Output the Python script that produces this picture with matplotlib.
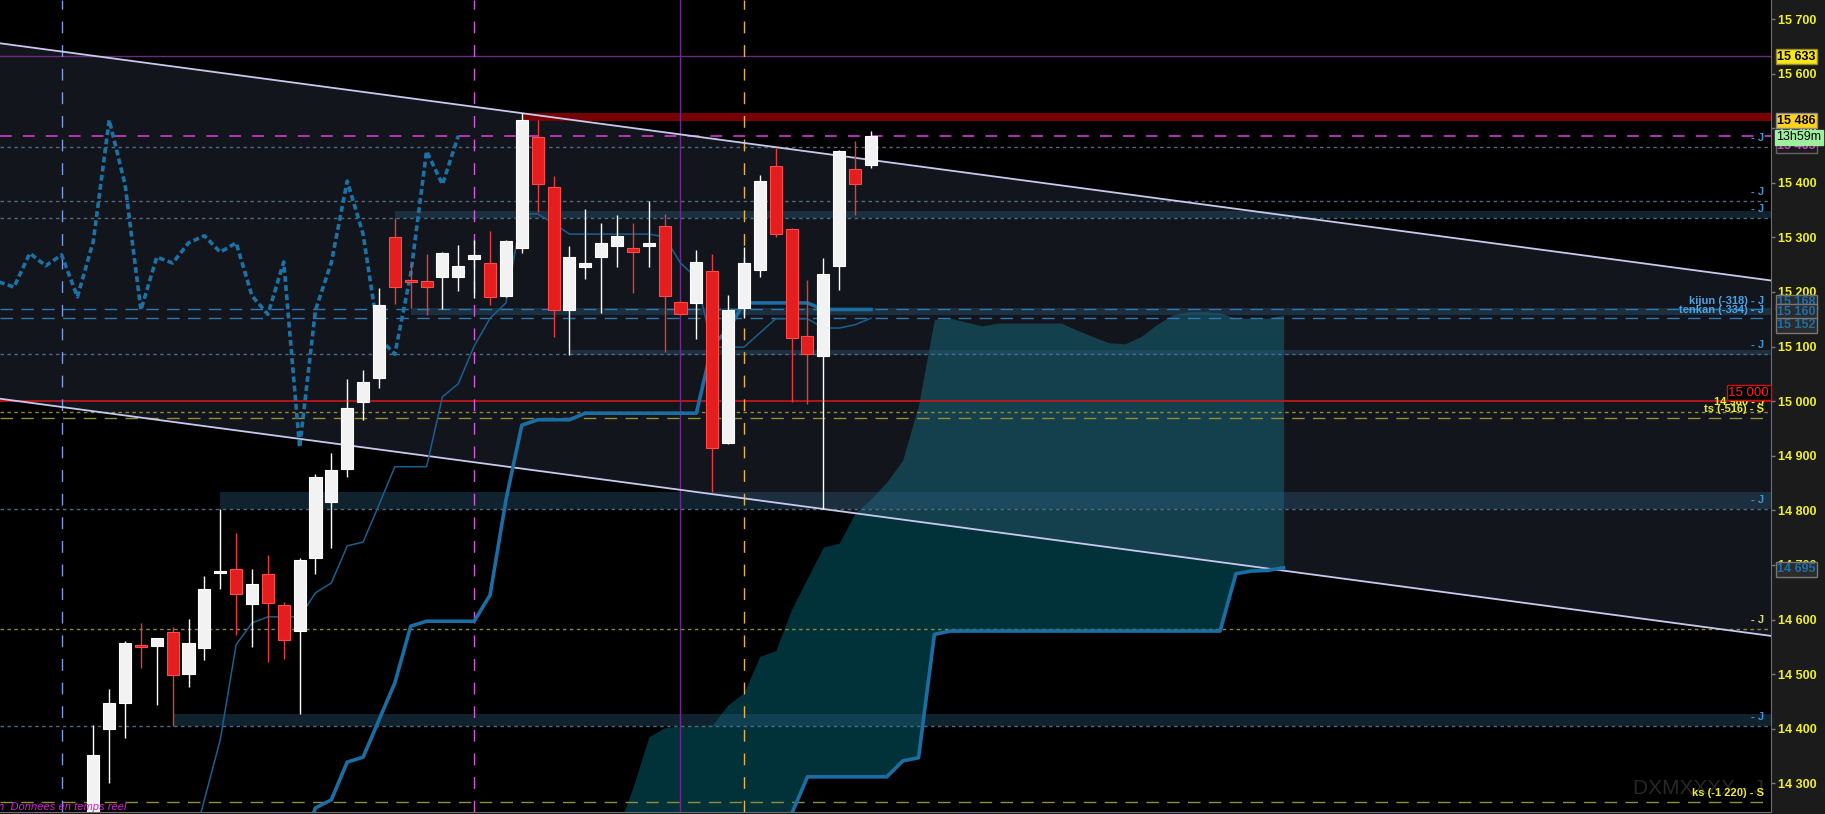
import numpy as np
import matplotlib
matplotlib.use("Agg")
import matplotlib.pyplot as plt
from matplotlib.ticker import FixedLocator, FuncFormatter

plt.rcParams['font.family'] = ['Liberation Sans', 'DejaVu Sans']
plt.rcParams['lines.scale_dashes'] = False

# ---- daily candles, index 0 = first visible bar ----
opens = [14230, 14400, 14448, 14553, 14552, 14577, 14500, 14548, 14686, 14693,
         14629, 14683, 14626, 14580, 14713, 14816, 14876, 14999, 15043, 15300,
         15222, 15220, 15228, 15227, 15260, 15253, 15193, 15281, 15483, 15392,
         15167, 15245, 15265, 15285, 15280, 15285, 15321, 15181, 15179, 15239,
         14924, 15171, 15240, 15431, 15315, 15119, 15083, 15248, 15425, 15433]
highs = [14407, 14472, 14561, 14594, 14567, 14586, 14601, 14680, 14802, 14758,
         14693, 14718, 14632, 14713, 14866, 14906, 15041, 15058, 15207, 15336,
         15254, 15270, 15273, 15286, 15295, 15312, 15295, 15527, 15515, 15412,
         15284, 15352, 15326, 15341, 15326, 15367, 15343, 15184, 15277, 15270,
         15195, 15283, 15414, 15464, 15318, 15222, 15262, 15460, 15477, 15495]
lows = [14200, 14301, 14384, 14511, 14444, 14405, 14477, 14526, 14656, 14572,
        14549, 14523, 14528, 14428, 14683, 14732, 14862, 14966, 15024, 15178,
        15171, 15158, 15168, 15201, 15189, 15176, 15190, 15272, 15347, 15118,
        15085, 15224, 15161, 15246, 15198, 15246, 15091, 15157, 15114, 14834,
        14921, 15152, 15228, 15300, 14999, 14994, 14803, 15204, 15341, 15428]
closes = [14352, 14447, 14557, 14550, 14566, 14499, 14557, 14656, 14689, 14646,
          14665, 14631, 14563, 14709, 14862, 14874, 14988, 15035, 15176, 15209,
          15219, 15209, 15271, 15248, 15268, 15191, 15293, 15515, 15397, 15167,
          15264, 15253, 15290, 15303, 15273, 15290, 15193, 15159, 15255, 14915,
          15167, 15254, 15403, 15306, 15116, 15086, 15233, 15458, 15397, 15486]

# ---- ichimoku lines (by bar index) ----
tenkan_start = 6
tenkan = [14160, 14270, 14380, 14554, 14594, 14605, 14605, 14605, 14649, 14667,
          14735, 14742, 14810, 14880, 14880, 14880, 15008, 15032, 15101, 15152,
          15180, 15343, 15343, 15326, 15306, 15306, 15306, 15306, 15306, 15306,
          15301, 15253, 15226, 15099, 15099, 15099, 15125, 15151, 15151, 15151,
          15134, 15134, 15140, 15152]
kijun_start = 13
kijun = [14180, 14255, 14270, 14339, 14348, 14416, 14484, 14588, 14597, 14597,
         14597, 14597, 14645, 14819, 14956, 14966, 14966, 14966, 14978, 14978,
         14978, 14978, 14978, 14978, 14978, 14978, 15103, 15130, 15180, 15180,
         15180, 15180, 15180, 15168, 15168, 15168, 15168]
cloud_start = 33
span_a = [14215, 14292, 14385, 14402, 14405, 14406, 14407, 14444, 14466, 14533,
          14543, 14619, 14676, 14733, 14740, 14795, 14821, 14852, 14892, 14993,
          15150, 15152, 15145, 15138, 15143, 15143, 15143, 15143, 15143, 15130,
          15118, 15107, 15105, 15118, 15140, 15158, 15164, 15164, 15162, 15152,
          15152, 15152, 15158]
span_b = [14100] * 11 + [14244] + [14312] * 6 + [14341, 14347, 14573] + \
         [14579] * 18 + [14684, 14689, 14690, 14695]
chikou_shift = 26

# ---- drawn objects ----
channel_x = [-6, 106]
channel_top = [15656, 15220]
channel_bot = [15005, 14569]
# (start bar, low, high)
zones = [(19, 15335, 15349), (20, 15157, 15170), (30, 15085, 15094),
         (8, 14802, 14833), (5, 14405, 14428)]
red_zone = (27, 15514, 15527)
j_levels = [15465, 15366, 15335, 15086, 14802, 14405]
last_price = 15486
kijun_level, tenkan_level = 15168, 15152
round_level = 15000
yellow_levels = [14980, 14582]
ts_level, ks_level = 14970, 14266
purple_level = 15633
vlines = [(-2, '#7b98e0', 'dash'), (24, '#d35ad8', 'dash'),
          (37, '#6f2a90', 'solid'), (41, '#e6b24a', 'dash')]

W, H = 1825, 814
fig = plt.figure(figsize=(W / 100, H / 100), dpi=100, facecolor='#1b1b1b')
ax = fig.add_axes([0, 2 / H, 1771 / W, 812 / H])
ax.set_facecolor('black')
ax.set_xlim(-5.879, 105.715)
ax.set_ylim(14247.6, 15734.8)

# cloud (kumo)
cx = np.arange(cloud_start, cloud_start + len(span_a))
ax.fill_between(cx, span_a, span_b, color='#01323a', lw=0, zorder=1)

# descending channel
ax.fill_between(channel_x, channel_bot, channel_top, color=(0.55, 0.6, 0.8),
                alpha=0.14, lw=0, zorder=2)

# zones
xr = ax.get_xlim()[1]
ax.fill_between([red_zone[0], xr], red_zone[1], red_zone[2], color='#780000',
                lw=0, zorder=2.5)
for s, lo, hi in zones:
    ax.fill_between([s, xr], lo, hi, color='#2a5a7a', alpha=0.38, lw=0, zorder=3)

# horizontal levels
fine = (0, (2.5, 2.5))
longd = (0, (9, 6))
for lv in j_levels:
    ax.axhline(lv, color='#4c6a80', lw=1, ls=fine, zorder=4)
ax.axhline(last_price, color='#cc3ccc', lw=1.2, ls=(0, (8.5, 8)), zorder=4)
ax.axhline(kijun_level, color='#2f78ad', lw=1, ls=longd, zorder=4)
ax.axhline(tenkan_level, color='#2f78ad', lw=1, ls=longd, zorder=4)
ax.axhline(round_level, color='#cf1515', lw=1.2, zorder=4)
for lv in yellow_levels:
    ax.axhline(lv, color='#8a8a3a', lw=1, ls=fine, zorder=4)
ax.axhline(ts_level, color='#8f8f2f', lw=1, ls=longd, zorder=4)
ax.axhline(ks_level, color='#8f8f2f', lw=1, ls=longd, zorder=4)
ax.axhline(purple_level, color='#6a2a80', lw=1, zorder=4)
for xv, col, st in vlines:
    ax.axvline(xv, color=col, lw=1, zorder=4,
               ls=(0, (8.5, 8.5)) if st == 'dash' else '-')

# channel lines
ax.plot(channel_x, channel_top, color='#c9c9ee', lw=1.3, zorder=4.5)
ax.plot(channel_x, channel_bot, color='#c9c9ee', lw=1.3, zorder=4.5)

# ichimoku
ax.plot(cx, span_b, color='#1a6ea3', lw=2.6, zorder=5)
ax.plot(np.arange(kijun_start, kijun_start + len(kijun)), kijun,
        color='#1a6ea3', lw=2.6, zorder=5)
ax.plot(np.arange(tenkan_start, tenkan_start + len(tenkan)), tenkan,
        color='#1b5f8e', lw=1.1, zorder=5)
ck = np.arange(20, len(closes))
ax.plot(ck - chikou_shift, [closes[k] for k in ck], color='#1b72a6', lw=2.6,
        ls=(0, (4.2, 2.4)), zorder=5)

# candles
xs = np.arange(len(closes))
o = np.array(opens, float)
c = np.array(closes, float)
up = c >= o
wick_cols = ['#ffffff' if u else '#e83a3a' for u in up]
ax.vlines(xs, lows, highs, colors=wick_cols, lw=1, zorder=6)
body = np.maximum(np.abs(c - o), 4)
bottom = np.minimum(o, c) - (body - np.abs(c - o)) / 2
ax.bar(xs, body, bottom=bottom, width=0.76,
       color=['#f2f2f2' if u else '#e41e1e' for u in up],
       edgecolor=['#ffffff' if u else '#ff4a4a' for u in up], lw=0.8, zorder=7)

# right axis
ax.yaxis.tick_right()
ax.yaxis.set_major_locator(FixedLocator(list(range(14300, 15800, 100))))
ax.yaxis.set_major_formatter(FuncFormatter(lambda v, p: f"{int(v):,}".replace(",", " ")))
ax.tick_params(axis='y', length=3, width=1, color='#7a7a7a', pad=2,
               labelsize=9, labelcolor='#f0f022')
plt.setp(ax.get_yticklabels(), fontweight='bold')
ax.set_xticks([])
for side in ['top', 'left']:
    ax.spines[side].set_visible(False)
ax.spines['right'].set_color('#6e6e6e')
ax.spines['bottom'].set_color('#6e6e6e')

PT = 0.72  # points per pixel


def right_label(price, text, dy, color, size=8, weight='bold', dx=-7, z=9):
    ax.annotate(text, xy=(1, price), xycoords=('axes fraction', 'data'),
                xytext=(dx * PT, dy * PT), textcoords='offset points',
                ha='right', va='center', color=color, fontsize=size,
                fontweight=weight, zorder=z, annotation_clip=False)


def axis_box(price, text, dy, fg, bg, ec, weight='bold', z=12, dx=6):
    ax.annotate(text, xy=(1, price), xycoords=('axes fraction', 'data'),
                xytext=(dx * PT, dy * PT), textcoords='offset points',
                ha='left', va='center', color=fg, fontsize=9, fontweight=weight,
                bbox=dict(boxstyle='square,pad=0.12', fc=bg, ec=ec, lw=1),
                zorder=z, annotation_clip=False)


for lv in j_levels:
    right_label(lv, '- J', 9, '#3d95d5')
right_label(yellow_levels[1], '- J', 9, '#d8d878')
right_label(kijun_level, 'kijun (-318) - J', 8, '#4aa3e3')
right_label(tenkan_level, 'tenkan (-334) - J', 8, '#4aa3e3')
right_label(ks_level, 'DXMXXXX - J', 13, '#272727', size=15, weight='normal', z=8)
right_label(yellow_levels[0], '14 980 - J', 10, '#ecec2c')
right_label(ts_level, 'ts (-516) - S', 8.5, '#ecec2c')
right_label(ks_level, 'ks (-1 220) - S', 9, '#ecec2c')

ax.annotate('15 000', xy=(1, round_level), xycoords=('axes fraction', 'data'),
            xytext=(-2 * PT, 8.5 * PT), textcoords='offset points', ha='right',
            va='center', color='#ff2020', fontsize=9.5,
            bbox=dict(boxstyle='square,pad=0.12', fc='black', ec='#d01010', lw=1),
            zorder=10, annotation_clip=False)

axis_box(purple_level, '15 633', -1, 'black', '#f7e61c', '#9a8a20')
axis_box(last_price, '15 486', 15, 'black', '#ffd21f', '#8a8a8a')
axis_box(15465, '15 465', 1.5, '#d040d0', '#1b1b1b', '#666666', z=11)
axis_box(last_price, '13h59m', -1.5, 'black', '#9ef09e', '#9ef09e', weight='normal',
         z=12.5, dx=5)
axis_box(kijun_level, '15 168', 7, '#1f6fa5', '#2b2b2b', '#777777', z=11)
axis_box(15160, '15 160', 2, '#1f6fa5', '#2b2b2b', '#777777', z=11.5)
axis_box(tenkan_level, '15 152', -7, '#1f6fa5', '#2b2b2b', '#777777', z=12)
axis_box(14695, '14 695', -1.5, '#1f6fa5', '#2b2b2b', '#777777', z=12)

fig.text(-2 / W, 6.5 / H, 'n  Données en temps réel', color='#d41ed4',
         fontsize=8, style='italic', ha='left', va='center')

fig.savefig('out.png', dpi=100, facecolor=fig.get_facecolor())
